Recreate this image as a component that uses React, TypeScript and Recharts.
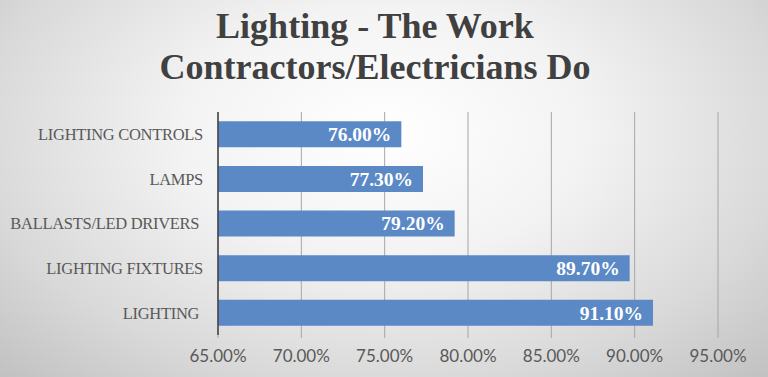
import * as React from "react";
import {
  BarChart,
  Bar,
  XAxis,
  YAxis,
  CartesianGrid,
  LabelList,
} from "recharts";

const categories = [
  "LIGHTING CONTROLS",
  "LAMPS",
  "BALLASTS/LED DRIVERS ",
  "LIGHTING FIXTURES",
  "LIGHTING ",
];
const shares = [76.0, 77.3, 79.2, 89.7, 91.1];
const xTicks = [65, 70, 75, 80, 85, 90, 95];
const titleLines = ["Lighting - The Work", "Contractors/Electricians Do"];

const pct = (v: any) => `${Number(v).toFixed(2)}%`;

export default function App() {
  const data = categories.map((name, i) => ({ name, value: shares[i] }));

  return (
    <div
      style={{
        position: "absolute",
        left: 0,
        top: 0,
        width: 768,
        height: 377,
        overflow: "hidden",
        background:
          "radial-gradient(ellipse 75% 95% at 50% 35%, #ffffff 0%, #f3f3f3 35%, #d9d9d9 70%, #bdbdbd 100%)",
      }}
    >
      <div
        style={{
          position: "absolute",
          left: 0,
          top: 6,
          width: 750,
          textAlign: "center",
          fontFamily: "'Liberation Serif', serif",
          fontWeight: "bold",
          fontSize: 36,
          lineHeight: "41px",
          color: "#404040",
        }}
      >
        {titleLines.map((t) => (
          <div key={t}>{t}</div>
        ))}
      </div>
      <BarChart
        width={768}
        height={377}
        data={data}
        layout="vertical"
        margin={{ top: 112, right: 50, left: 0, bottom: 12 }}
        barCategoryGap="21%"
        style={{ position: "absolute", left: 0, top: 0 }}
      >
        <CartesianGrid horizontal={false} stroke="#a6a6a6" />
        <XAxis
          type="number"
          domain={[65, 95]}
          ticks={xTicks}
          tickFormatter={pct}
          axisLine={false}
          tickLine={{ stroke: "#a6a6a6" }}
          tickSize={3}
          tickMargin={12}
          height={30}
          tick={{ fill: "#595959", fontSize: 17, fontFamily: "Lato" }}
        />
        <YAxis
          type="category"
          dataKey="name"
          width={218}
          axisLine={{ stroke: "#404040", strokeWidth: 1.5 }}
          tickLine={false}
          tickMargin={9}
          tick={{
            fill: "#595959",
            fontSize: 16.5,
            letterSpacing: -0.3,
            fontFamily: "'Liberation Serif', serif",
            style: { whiteSpace: "pre" },
          }}
        />
        <Bar dataKey="value" fill="#5b89c6" isAnimationActive={false}>
          <LabelList
            dataKey="value"
            position="insideRight"
            offset={10}
            formatter={pct}
            fill="#ffffff"
            style={{
              fontFamily: "'Liberation Serif', serif",
              fontWeight: "bold",
              fontSize: 19.5,
            }}
          />
        </Bar>
      </BarChart>
    </div>
  );
}
